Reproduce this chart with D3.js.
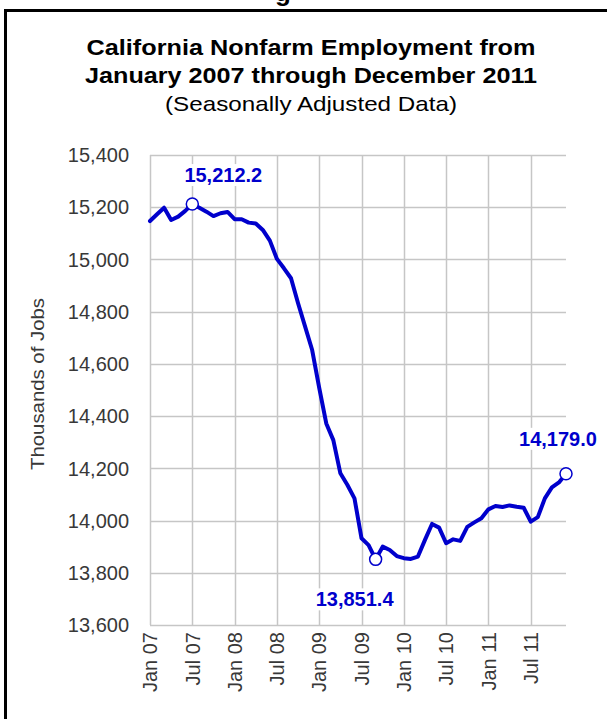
<!DOCTYPE html>
<html>
<head>
<meta charset="utf-8">
<script src="https://cdn.jsdelivr.net/npm/d3@7"></script>
<style>
  html, body { margin: 0; padding: 0; background: #fff; }
  svg { display: block; }
  text { font-family: "Liberation Sans", Arial, sans-serif; }
</style>
</head>
<body>
<svg id="chart" width="607" height="719"></svg>
<script>
// ---------------- data ----------------
const titleLines = ["California Nonfarm Employment from", "January 2007 through December 2011"];
const subtitle = "(Seasonally Adjusted Data)";
const yAxisTitle = "Thousands of Jobs";

// months Jan 2007 .. Dec 2011
const years = ["07", "08", "09", "10", "11"];
const monthNames = ["Jan","Feb","Mar","Apr","May","Jun","Jul","Aug","Sep","Oct","Nov","Dec"];
const categories = years.flatMap(y => monthNames.map(m => m + " " + y));

// nonfarm employment, thousands
const employment = [
  15147, 15173, 15198, 15151, 15164, 15186, 15212.2, 15198, 15183, 15166, 15177, 15182,
  15154, 15154, 15141, 15138, 15113, 15072, 15002, 14966, 14928, 14832, 14743, 14653,
  14508, 14372, 14308, 14181, 14136, 14085, 13932, 13906, 13851.4, 13900, 13887, 13864,
  13856, 13853, 13862, 13926, 13987, 13973, 13913, 13928, 13922, 13976, 13993, 14009,
  14043, 14056, 14052, 14058, 14053, 14049, 13996, 14013, 14085, 14127, 14146, 14179.0
];

const xTickLabels = ["Jan 07","Jul 07","Jan 08","Jul 08","Jan 09","Jul 09","Jan 10","Jul 10","Jan 11","Jul 11"];
const yTicks = [13600, 13800, 14000, 14200, 14400, 14600, 14800, 15000, 15200, 15400];

// labelled points: peak, trough, last
const callouts = [
  { cat: "Jul 07", value: 15212.2, text: "15,212.2" },
  { cat: "Sep 09", value: 13851.4, text: "13,851.4" },
  { cat: "Dec 11", value: 14179.0, text: "14,179.0" }
];

// ---------------- drawing ----------------
const svg = d3.select("#chart");
const L = 150, R = 566, T = 155, B = 625;
const blue = "#0000cc";
const grid = "#c6c6c6";
const tickCol = "#383838";

const x = d3.scalePoint().domain(categories).range([L, R]);
const y = d3.scaleLinear().domain([13600, 15400]).range([B, T]);

// frame (outer box of the figure)
svg.append("line").attr("x1", 5).attr("x2", 607).attr("y1", 10.5).attr("y2", 10.5)
  .attr("stroke", "#000").attr("stroke-width", 3);
svg.append("line").attr("x1", 5.5).attr("x2", 5.5).attr("y1", 9).attr("y2", 719)
  .attr("stroke", "#000").attr("stroke-width", 3);
// heading above the frame, clipped by the page edge as in the reference
svg.append("text").attr("x", 283).attr("y", 1).attr("text-anchor", "middle")
  .attr("font-size", 26).attr("font-weight", "bold").attr("fill", "#000").text("g");

// titles
svg.append("text").attr("x", 311).attr("y", 55).attr("text-anchor", "middle")
  .attr("font-size", 22).attr("font-weight", "bold").attr("fill", "#000")
  .attr("textLength", 449).attr("lengthAdjust", "spacingAndGlyphs")
  .text(titleLines[0]);
svg.append("text").attr("x", 311).attr("y", 83).attr("text-anchor", "middle")
  .attr("font-size", 22).attr("font-weight", "bold").attr("fill", "#000")
  .attr("textLength", 452).attr("lengthAdjust", "spacingAndGlyphs")
  .text(titleLines[1]);
svg.append("text").attr("x", 311).attr("y", 111).attr("text-anchor", "middle")
  .attr("font-size", 21).attr("fill", "#000")
  .attr("textLength", 292).attr("lengthAdjust", "spacingAndGlyphs")
  .text(subtitle);

// horizontal gridlines
svg.append("g").selectAll("line").data(yTicks).join("line")
  .attr("x1", L).attr("x2", R)
  .attr("y1", d => Math.round(y(d)) + 0.5).attr("y2", d => Math.round(y(d)) + 0.5)
  .attr("stroke", grid).attr("stroke-width", 1.5);

// vertical gridlines
svg.append("g").selectAll("line").data(xTickLabels).join("line")
  .attr("x1", d => Math.round(x(d)) + 0.5).attr("x2", d => Math.round(x(d)) + 0.5)
  .attr("y1", T).attr("y2", B)
  .attr("stroke", grid).attr("stroke-width", 1.5);

// y tick labels
const fmt = d3.format(",");
svg.append("g").selectAll("text").data(yTicks).join("text")
  .attr("x", 129).attr("y", d => y(d)).attr("dy", "0.36em")
  .attr("text-anchor", "end").attr("font-size", 20).attr("fill", tickCol)
  .text(d => fmt(d));

// y axis title
svg.append("text")
  .attr("transform", `translate(44,384) rotate(-90)`)
  .attr("text-anchor", "middle").attr("font-size", 19).attr("fill", tickCol)
  .attr("textLength", 172).attr("lengthAdjust", "spacingAndGlyphs")
  .text(yAxisTitle);

// x tick labels (rotated)
svg.append("g").selectAll("text").data(xTickLabels).join("text")
  .attr("transform", d => `translate(${x(d)},632) rotate(-90)`)
  .attr("dy", "0.36em").attr("text-anchor", "end")
  .attr("font-size", 20).attr("fill", tickCol)
  .text(d => d);

// line
const line = d3.line().x((d, i) => x(categories[i])).y(d => y(d));
svg.append("path").datum(employment)
  .attr("d", line).attr("fill", "none")
  .attr("stroke", blue).attr("stroke-width", 4)
  .attr("stroke-linejoin", "round").attr("stroke-linecap", "round");

// callout label offsets (relative to the marker)
const offsets = { "Jul 07": [31, -22], "Sep 09": [-21, 47], "Dec 11": [-8, -28] };
callouts.forEach(c => {
  const cx = x(c.cat), cy = y(c.value);
  const [ox, oy] = offsets[c.cat];
  const t = svg.append("text").attr("x", cx + ox).attr("y", cy + oy)
    .attr("text-anchor", "middle").attr("font-size", 20).attr("font-weight", "bold")
    .attr("fill", blue).text(c.text);
  const bb = t.node().getBBox();
  svg.insert("rect", () => t.node())
    .attr("x", bb.x - 2).attr("y", bb.y).attr("width", bb.width + 4).attr("height", bb.height)
    .attr("fill", "#fff");
  svg.append("circle").attr("cx", cx).attr("cy", cy).attr("r", 6)
    .attr("fill", "#fff").attr("stroke", blue).attr("stroke-width", 1.5);
});
</script>
</body>
</html>
